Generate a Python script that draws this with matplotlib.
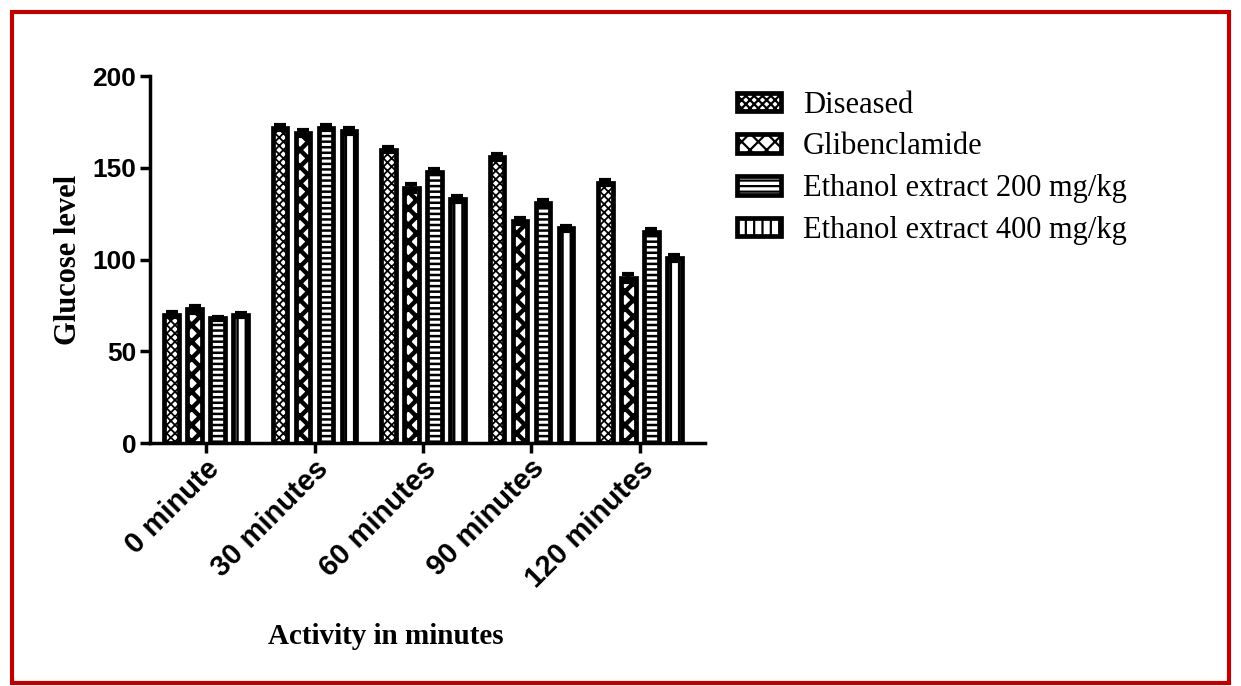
import numpy as np
import matplotlib
matplotlib.use("Agg")
import matplotlib.pyplot as plt
import matplotlib.transforms as mtransforms
from matplotlib.patches import Rectangle

groups = ["0 minute", "30 minutes", "60 minutes", "90 minutes", "120 minutes"]
series = ["Diseased", "Glibenclamide", "Ethanol extract 200 mg/kg", "Ethanol extract 400 mg/kg"]

diseased = [70, 172, 160, 156, 142]
glibenclamide = [73, 169, 139, 121, 90]
ethanol_200 = [68, 172, 148, 131, 115]
ethanol_400 = [70, 170, 133, 117, 101]

diseased_err = [1.5, 1.5, 1.5, 1.5, 1.5]
glibenclamide_err = [2.0, 1.5, 2.0, 1.5, 2.0]
ethanol_200_err = [1.0, 1.5, 1.5, 1.5, 1.5]
ethanol_400_err = [1.0, 1.5, 1.5, 1.5, 1.5]

values = [diseased, glibenclamide, ethanol_200, ethanol_400]
errors = [diseased_err, glibenclamide_err, ethanol_200_err, ethanol_400_err]
hatches = ["xxxx", "xx", "---", "||"]
hatch_lw = [1.3, 3.2, 1.8, 1.8]

plt.rcParams["hatch.linewidth"] = 1.6

fig = plt.figure(figsize=(12.41, 6.86), dpi=100)
ax = fig.add_axes([0.121, 0.354, 0.447, 0.535])

x = np.arange(len(groups))
step = 0.212
width = 0.135
for k in range(4):
    pos = x + (k - 1.5) * step
    bars = ax.bar(pos, values[k], width, facecolor="white", edgecolor="black",
                  linewidth=3.4, hatch=hatches[k], label=series[k], zorder=2)
    for b in bars:
        if hasattr(b, "set_hatch_linewidth"):
            b.set_hatch_linewidth(hatch_lw[k])
    ax.errorbar(pos, values[k], yerr=errors[k], fmt="none", ecolor="black",
                elinewidth=3, capsize=4, capthick=3, zorder=3)

ax.set_xlim(-0.516, 4.6)
ax.set_ylim(0, 200)
ax.set_yticks([0, 50, 100, 150, 200])

ax.tick_params(axis="both", width=2.5, length=7, color="black")
ax.tick_params(axis="x", pad=1)
ax.tick_params(axis="y", pad=3)

ax.set_xticks(x)
ax.set_xticklabels(groups, rotation=45, ha="right", va="center",
                   rotation_mode="anchor")

offset = mtransforms.ScaledTranslation(9 / 100, -10 / 100, fig.dpi_scale_trans)
for lab in ax.get_xticklabels():
    lab.set_fontfamily("Liberation Sans")
    lab.set_fontweight("bold")
    lab.set_fontsize(21)
    lab.set_transform(lab.get_transform() + offset)
for lab in ax.get_yticklabels():
    lab.set_fontfamily("Liberation Sans")
    lab.set_fontweight("bold")
    lab.set_fontsize(19)

for s in ["top", "right"]:
    ax.spines[s].set_visible(False)
for s in ["left", "bottom"]:
    ax.spines[s].set_linewidth(2.5)

ax.set_ylabel("Glucose level", fontfamily="Liberation Serif", fontweight="bold",
              fontsize=22)
ax.yaxis.set_label_coords(-0.121, 0.5)
ax.set_xlabel("Activity in minutes", fontfamily="Liberation Serif",
              fontweight="bold", fontsize=21)
ax.xaxis.set_label_coords(0.425, -0.49)

leg = ax.legend(loc="upper left", bbox_to_anchor=(0.594, 0.868),
                bbox_transform=fig.transFigure, frameon=False,
                prop={"family": "Liberation Serif", "size": 22},
                handlelength=1.45, handleheight=0.55, handletextpad=0.7,
                labelspacing=0.42, borderpad=0, borderaxespad=0)

fig.patches.append(Rectangle((0.0097, 0.0044), 0.9806, 0.9781, transform=fig.transFigure,
                             fill=False, edgecolor="#c00000", linewidth=3))

fig.savefig("out.png", dpi=100)
